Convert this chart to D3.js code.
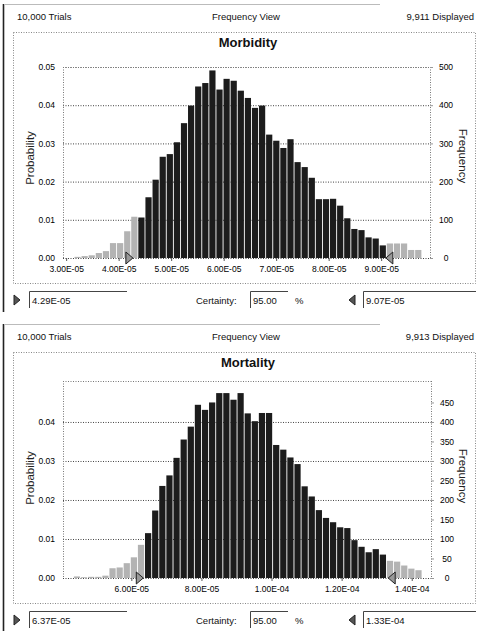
<!DOCTYPE html>
<html>
<head>
<meta charset="utf-8">
<script src="https://cdn.jsdelivr.net/npm/d3@7"></script>
<style>
  body { margin: 0; background: #fff; }
  svg { display: block; font-family: "Liberation Sans", Arial, sans-serif; }
</style>
</head>
<body>
<script>
// Morbidity histogram, probability per bin (49 bins)
const morbidityProb = [
  0.0003, 0.0005, 0.0007, 0.0013, 0.0018, 0.0039, 0.0039, 0.0070, 0.0108,
  0.0106, 0.0159, 0.0205, 0.0265, 0.0272, 0.0303, 0.0353, 0.0399, 0.0449, 0.0458,
  0.0491, 0.0441, 0.0469, 0.0464, 0.0438, 0.0419, 0.0393, 0.0399, 0.0323, 0.0307,
  0.0288, 0.0311, 0.0251, 0.0238, 0.0210, 0.0154, 0.0154, 0.0155, 0.0137, 0.0104,
  0.0076, 0.0073, 0.0054, 0.0051, 0.0033,
  0.0038, 0.0038, 0.0038, 0.0021, 0.0021
];
const morbidityBin = [3.158e-5, 1.352e-6]; // first bin start, bin width
const morbidityCertainBins = [9, 43];
const morbidityXTicks = [3e-5, 4e-5, 5e-5, 6e-5, 7e-5, 8e-5, 9e-5];
const morbidityXLabels = ["3.00E-05", "4.00E-05", "5.00E-05", "6.00E-05", "7.00E-05", "8.00E-05", "9.00E-05"];
const morbidityYTicks = [0, 0.01, 0.02, 0.03, 0.04, 0.05];
const morbidityFreqTicks = [0, 100, 200, 300, 400, 500];

// Mortality histogram, probability per bin (49 bins)
const mortalityProb = [
  0.0004, 0.0002, 0.0003, 0.0003, 0.0006, 0.0025, 0.0027, 0.0038, 0.0053, 0.0085,
  0.0115, 0.0173, 0.0236, 0.0263, 0.0308, 0.0355, 0.0388, 0.0444, 0.0431, 0.0450,
  0.0474, 0.0474, 0.0457, 0.0474, 0.0422, 0.0402, 0.0423, 0.0423, 0.0341, 0.0329,
  0.0309, 0.0292, 0.0235, 0.0209, 0.0174, 0.0154, 0.0143, 0.0130, 0.0128, 0.0097,
  0.0080, 0.0066, 0.0074, 0.0060,
  0.0044, 0.0042, 0.0032, 0.0024, 0.0020
];
const mortalityBin = [4.36e-5, 2.03e-6];
const mortalityCertainBins = [10, 43];
const mortalityXTicks = [6e-5, 8e-5, 1e-4, 1.2e-4, 1.4e-4];
const mortalityXLabels = ["6.00E-05", "8.00E-05", "1.00E-04", "1.20E-04", "1.40E-04"];
const mortalityYTicks = [0, 0.01, 0.02, 0.03, 0.04];
const mortalityFreqTicks = [0, 50, 100, 150, 200, 250, 300, 350, 400, 450];

const svg = d3.select("body").append("svg").attr("width", 481).attr("height", 631);

const drawPanel = (p) => {
  const g = svg.append("g").attr("transform", `translate(0,${p.offsetY})`);
  const left = p.xRange[0], right = p.xRange[1], base = 258;

  // window edges
  g.append("line").attr("x1", 3.5).attr("x2", 3.5).attr("y1", 4).attr("y2", p.edgeBottom)
    .attr("stroke", "#222").attr("stroke-width", 1.6);
  g.append("line").attr("x1", 5).attr("x2", 380).attr("y1", 4.5).attr("y2", 4.5)
    .attr("stroke", "#bbb");

  // header row
  const header = g.append("g").style("font-size", "9.5px").attr("fill", "#111");
  header.append("text").attr("x", 17).attr("y", 20).text(p.trials);
  header.append("text").attr("x", 246).attr("y", 20).attr("text-anchor", "middle").text("Frequency View");
  header.append("text").attr("x", 474).attr("y", 20).attr("text-anchor", "end").text(p.displayed);

  // dotted chart frame
  g.append("rect").attr("x", 13.5).attr("y", 32.5).attr("width", 462).attr("height", 251)
    .attr("fill", "none").attr("stroke", "#888").attr("stroke-dasharray", "1,1.5");

  // title
  g.append("text").attr("x", 248).attr("y", 47).attr("text-anchor", "middle")
    .style("font-size", "13px").style("font-weight", "bold").attr("fill", "#111").text(p.title);

  // scales
  const x = d3.scaleLinear().domain(p.xDomain).range(p.xRange);
  const y = d3.scaleLinear().domain([0, p.yMax]).range([base, p.plotTop]);
  const yFreq = d3.scaleLinear().domain([0, p.yMax * 10000]).range([base, p.plotTop]);

  // gridlines
  const grid = g.append("g").attr("transform", `translate(${left},0)`)
    .call(d3.axisLeft(y).tickValues(p.yTicks).tickSize(-(right - left)).tickFormat(""));
  grid.select(".domain").remove();
  grid.selectAll("line").attr("stroke", "#444").attr("stroke-dasharray", "1,1.5");

  // plot frame (dotted)
  const frame = g.append("g").attr("stroke", "#777").attr("stroke-dasharray", "1,1.5");
  frame.append("line").attr("x1", left + 0.5).attr("x2", left + 0.5).attr("y1", p.plotTop).attr("y2", base);
  frame.append("line").attr("x1", right + 0.5).attr("x2", right + 0.5).attr("y1", p.plotTop).attr("y2", base);
  frame.append("line").attr("x1", left).attr("x2", right).attr("y1", p.plotTop + 0.5).attr("y2", p.plotTop + 0.5);

  // bars
  const edge = (i) => x(p.bin[0] + i * p.bin[1]);
  g.append("g").selectAll("rect").data(p.prob).join("rect")
    .attr("x", (d, i) => edge(i))
    .attr("width", (d, i) => edge(i + 1) - edge(i) - 0.9)
    .attr("y", (d) => y(d))
    .attr("height", (d) => base - y(d))
    .attr("fill", (d, i) => (i >= p.certain[0] && i <= p.certain[1] ? "#1c1c1c" : "#b3b3b3"));

  // left axis
  const yAxis = g.append("g").attr("transform", `translate(${left},0)`)
    .call(d3.axisLeft(y).tickValues(p.yTicks).tickFormat(d3.format(".2f")).tickSize(0).tickPadding(8));
  yAxis.select(".domain").remove();
  yAxis.selectAll("text").style("font-size", "8.5px").style("font-family", null).attr("fill", "#000");

  // right axis
  const fAxis = g.append("g").attr("transform", `translate(${right},0)`)
    .call(d3.axisRight(yFreq).tickValues(p.freqTicks).tickSize(3));
  fAxis.select(".domain").remove();
  fAxis.selectAll("line").attr("stroke", "#999");
  fAxis.selectAll("text").attr("x", 16).attr("text-anchor", "middle")
    .style("font-size", "8.5px").style("font-family", null).attr("fill", "#000");

  // bottom axis
  const xAxis = g.append("g").attr("transform", `translate(0,${base})`)
    .call(d3.axisBottom(x).tickValues(p.xTicks).tickFormat((d, i) => p.xLabels[i]).tickSize(3).tickPadding(5));
  xAxis.select(".domain").remove();
  xAxis.selectAll("line").attr("stroke", "#555");
  xAxis.selectAll("text").style("font-size", "8.5px").style("font-family", null).attr("fill", "#000");

  // axis titles
  g.append("text").attr("transform", "translate(34,158) rotate(-90)").attr("text-anchor", "middle")
    .style("font-size", "11.5px").attr("fill", "#222").text("Probability");
  g.append("text").attr("transform", "translate(459,156) rotate(90)").attr("text-anchor", "middle")
    .style("font-size", "11.5px").attr("fill", "#222").text("Frequency");

  // certainty markers on the baseline
  const xl = x(p.lo), xh = x(p.hi);
  g.append("path").attr("d", `M${xl - 8},${base - 6}L${xl - 1},${base}L${xl - 8},${base + 6}Z`)
    .attr("fill", "#999").attr("stroke", "#222");
  g.append("path").attr("d", `M${xh + 8},${base - 6}L${xh + 1},${base}L${xh + 8},${base + 6}Z`)
    .attr("fill", "#999").attr("stroke", "#222");

  // bottom row: grabbers and text boxes
  const row = 300;
  g.append("path").attr("d", `M14,${row - 5}L20,${row}L14,${row + 5}Z`).attr("fill", "#555").attr("stroke", "#222");
  g.append("path").attr("d", `M355,${row - 5}L349,${row}L355,${row + 5}Z`).attr("fill", "#555").attr("stroke", "#222");

  const box = (x0, x1, label) => {
    g.append("path").attr("d", `M${x0 + 0.5},${row + 8}V${row - 8.5}H${x1}`)
      .attr("fill", "none").attr("stroke", "#444");
    g.append("text").attr("x", x0 + 3).attr("y", row + 3.5).style("font-size", "9.5px")
      .attr("fill", "#111").text(label);
  };
  box(29, 127, p.loLabel);
  box(250, 288, p.certainty);
  box(363, 476, p.hiLabel);

  const rowText = g.append("g").style("font-size", "9.5px").attr("fill", "#111");
  rowText.append("text").attr("x", 196).attr("y", row + 3.5).text("Certainty:");
  rowText.append("text").attr("x", 295).attr("y", row + 3.5).text("%");
};

drawPanel({
  offsetY: 0, edgeBottom: 312,
  trials: "10,000 Trials", displayed: "9,911 Displayed", title: "Morbidity",
  prob: morbidityProb, bin: morbidityBin, certain: morbidityCertainBins,
  xDomain: [2.94e-5, 9.93e-5], xRange: [63, 430],
  xTicks: morbidityXTicks, xLabels: morbidityXLabels,
  yMax: 0.05, plotTop: 67, yTicks: morbidityYTicks, freqTicks: morbidityFreqTicks,
  lo: 4.29e-5, hi: 9.07e-5, loLabel: "4.29E-05", hiLabel: "9.07E-05", certainty: "95.00"
});

drawPanel({
  offsetY: 320, edgeBottom: 311,
  trials: "10,000 Trials", displayed: "9,913 Displayed", title: "Mortality",
  prob: mortalityProb, bin: mortalityBin, certain: mortalityCertainBins,
  xDomain: [4.05e-5, 1.455e-4], xRange: [63, 431],
  xTicks: mortalityXTicks, xLabels: mortalityXLabels,
  yMax: 0.0505, plotTop: 61, yTicks: mortalityYTicks, freqTicks: mortalityFreqTicks,
  lo: 6.37e-5, hi: 1.33e-4, loLabel: "6.37E-05", hiLabel: "1.33E-04", certainty: "95.00"
});
</script>
</body>
</html>
